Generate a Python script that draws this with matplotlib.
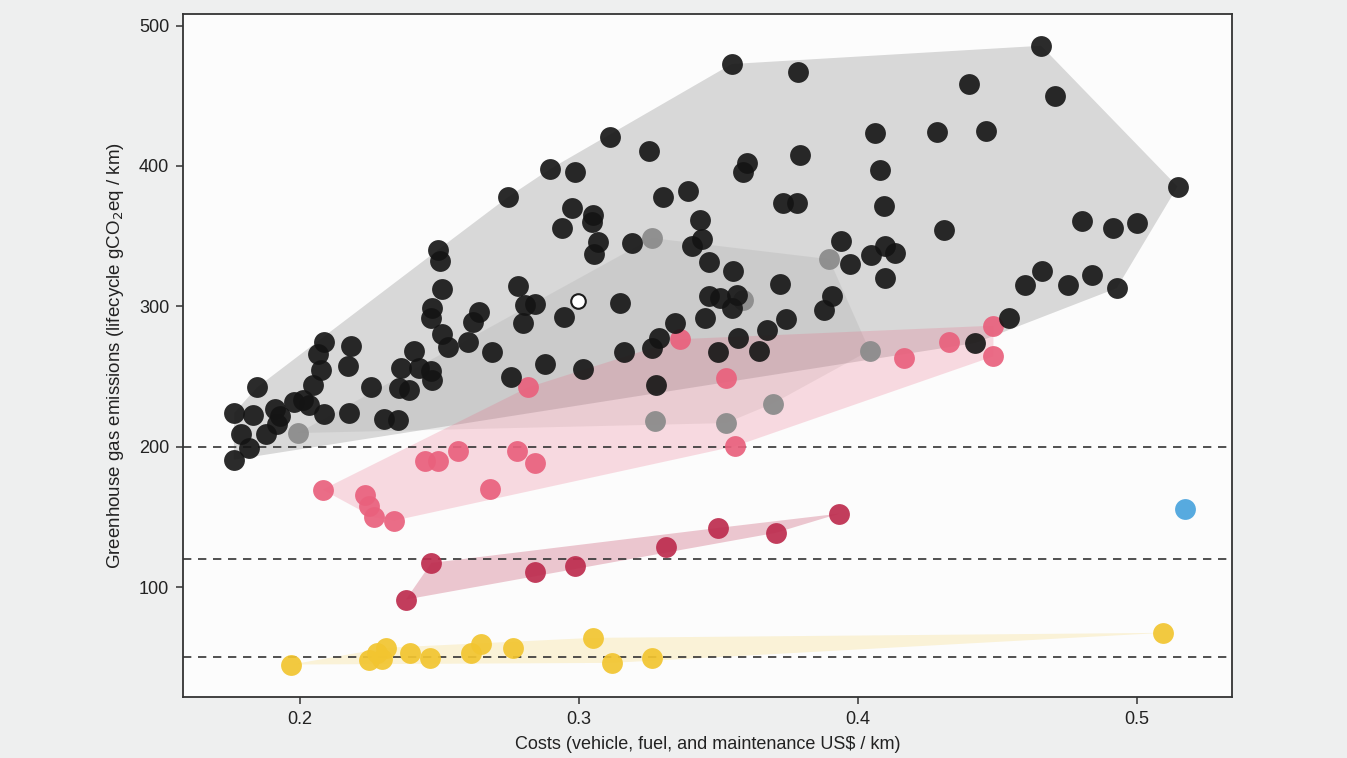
import matplotlib
matplotlib.use("Agg")
import matplotlib.pyplot as plt
import numpy as np

plt.rcParams['font.family'] = ['Liberation Sans', 'DejaVu Sans']

# ---- data (cost US$/km, GHG gCO2eq/km) ----
black_x = [0.2744, 0.2494, 0.2502, 0.2510, 0.2474, 0.2468, 0.2508, 0.2528, 0.2642, 0.2621,
           0.2601, 0.2687, 0.2755, 0.2086, 0.2062, 0.2074, 0.2045, 0.2183, 0.2171, 0.2253,
           0.2409, 0.2361, 0.2424, 0.2468, 0.2474, 0.2353, 0.2389, 0.1845, 0.1763, 0.1830,
           0.1910, 0.1928, 0.1789, 0.1878, 0.1916, 0.1817, 0.1762, 0.1976, 0.2010, 0.2030,
           0.2086, 0.2176, 0.2299, 0.2349,
           0.3547, 0.3783, 0.3109, 0.3251, 0.2894, 0.2985, 0.3601, 0.3589, 0.3792, 0.3299,
           0.3389, 0.3732, 0.3780, 0.2974, 0.3051, 0.3045, 0.2940, 0.3434, 0.3442, 0.3406,
           0.3066, 0.3054, 0.3189, 0.3938, 0.3971, 0.3466, 0.3550, 0.3720, 0.2779, 0.2806,
           0.2842, 0.2798, 0.2944, 0.3147, 0.3464, 0.3505, 0.3565, 0.3547, 0.3452, 0.3742,
           0.3908, 0.3876, 0.3344, 0.3285, 0.3261, 0.3675, 0.3571, 0.3496, 0.3645, 0.3159,
           0.2878, 0.3013, 0.3276,
           0.4656, 0.4398, 0.4706, 0.4061, 0.4282, 0.4458, 0.4077, 0.4091, 0.5145, 0.4308,
           0.4801, 0.4915, 0.5001, 0.4097, 0.4133, 0.4045, 0.4095, 0.4658, 0.4599, 0.4754,
           0.4840, 0.4927, 0.4539, 0.4419]
black_y = [377.7, 340.2, 332.4, 312.2, 298.7, 291.6, 280.2, 271.0, 295.9, 288.8,
           274.5, 267.4, 249.6, 274.5, 266.2, 254.3, 243.6, 271.4, 257.2, 242.2,
           268.5, 256.0, 256.0, 253.6, 247.7, 241.8, 240.6, 242.2, 224.0, 222.3,
           227.0, 221.6, 209.0, 209.0, 216.2, 199.1, 190.7, 231.8, 233.5, 229.9,
           223.5, 224.0, 219.9, 219.2,
           472.6, 466.7, 420.9, 410.7, 397.6, 395.9, 401.9, 395.9, 407.8, 378.1,
           382.4, 373.4, 373.4, 370.3, 365.1, 359.9, 356.1, 361.6, 348.0, 343.1,
           346.1, 337.4, 345.0, 346.8, 330.0, 331.4, 325.3, 315.8, 314.8, 301.1,
           301.6, 288.0, 292.7, 302.3, 307.0, 305.8, 307.7, 298.7, 291.6, 291.1,
           307.0, 297.5, 288.0, 277.3, 270.2, 282.8, 277.3, 267.4, 268.3, 267.8,
           259.1, 255.5, 244.1,
           485.6, 458.4, 450.1, 423.7, 424.4, 425.1, 397.2, 371.8, 385.3, 354.4,
           360.9, 356.1, 359.2, 342.6, 337.9, 336.2, 320.1, 324.8, 315.3, 315.3,
           322.4, 312.9, 292.0, 273.8]

gray_x = [0.1992, 0.3261, 0.3896, 0.3589, 0.3272, 0.3526, 0.3693, 0.4041]
gray_y = [209.7, 348.6, 333.6, 304.6, 218.5, 216.8, 230.6, 268.5]

pink_x = [0.3362, 0.2816, 0.3526, 0.3557, 0.4485, 0.4324, 0.4485, 0.4166, 0.2080, 0.2233,
          0.2248, 0.2263, 0.2337, 0.2446, 0.2494, 0.2565, 0.2777, 0.2840, 0.2679]
pink_y = [276.6, 242.2, 248.9, 200.2, 286.2, 274.5, 264.3, 263.1, 169.4, 165.8,
          157.5, 149.7, 147.3, 189.5, 189.5, 196.7, 196.7, 188.4, 170.1]

darkred_x = [0.2470, 0.2379, 0.2840, 0.2986, 0.3311, 0.3497, 0.3704, 0.3932]
darkred_y = [117.2, 91.1, 110.8, 114.8, 128.3, 142.1, 138.6, 152.3]

yellow_x = [0.1968, 0.2248, 0.2293, 0.2275, 0.2308, 0.2394, 0.2466, 0.2613, 0.2649, 0.2761,
            0.3048, 0.3119, 0.3260, 0.5094]
yellow_y = [44.8, 47.7, 48.9, 53.2, 56.7, 53.2, 49.6, 53.2, 59.5, 56.7,
            63.8, 46.0, 49.6, 67.4]

blue_x = [0.5171]
blue_y = [155.7]

white_x = [0.2994]
white_y = [303.9]

thresholds = [200, 120, 50]
x_ticks = [0.2, 0.3, 0.4, 0.5]
y_ticks = [100, 200, 300, 400, 500]


def convex_hull(xs, ys):
    pts = sorted(set(zip(xs, ys)))
    if len(pts) < 3:
        return pts

    def cross(o, a, b):
        return (a[0] - o[0]) * (b[1] - o[1]) - (a[1] - o[1]) * (b[0] - o[0])

    lower, upper = [], []
    for p in pts:
        while len(lower) >= 2 and cross(lower[-2], lower[-1], p) <= 0:
            lower.pop()
        lower.append(p)
    for p in reversed(pts):
        while len(upper) >= 2 and cross(upper[-2], upper[-1], p) <= 0:
            upper.pop()
        upper.append(p)
    return lower[:-1] + upper[:-1]


fig = plt.figure(figsize=(13.47, 7.58), dpi=100, facecolor='#eeefef')
ax = fig.add_axes([0.1359, 0.0805, 0.7787, 0.901])
ax.set_facecolor('#fcfcfc')

# (x, y, hull colour, hull alpha)
groups = [
    (black_x, black_y, '#000000', 0.14),
    (gray_x, gray_y, '#7a7a7a', 0.13),
    (pink_x, pink_y, '#e9617d', 0.22),
    (darkred_x, darkred_y, '#bd2c4e', 0.26),
    (yellow_x, yellow_y, '#f2c530', 0.18),
]

for xs, ys, hc, ha in groups:
    hull = convex_hull(xs, ys)
    hx = [p[0] for p in hull]
    hy = [p[1] for p in hull]
    ax.fill(hx, hy, color=hc, alpha=ha, lw=0, zorder=1)

for y in thresholds:
    ax.axhline(y, color='#333333', lw=1.2, ls=(0, (5, 4)), zorder=2)

S = 225
ax.scatter(yellow_x, yellow_y, s=S, color='#f2c530', alpha=0.92, lw=0, zorder=3)
ax.scatter(darkred_x, darkred_y, s=S, color='#bd2c4e', alpha=0.92, lw=0, zorder=3)
ax.scatter(pink_x, pink_y, s=S, color='#e9617d', alpha=0.92, lw=0, zorder=3)
ax.scatter(gray_x, gray_y, s=S, color='#8c8c8c', alpha=0.95, lw=0, zorder=3)
ax.scatter(black_x, black_y, s=S, color='#141414', alpha=0.9, lw=0, zorder=4)
ax.scatter(blue_x, blue_y, s=S, color='#4ea6de', alpha=0.95, lw=0, zorder=4)
ax.scatter(white_x, white_y, s=110, facecolor='white', edgecolor='#1a1a1a', lw=1.5, zorder=5)

ax.set_xlim(0.158, 0.534)
ax.set_ylim(21.7, 508.2)
ax.set_xticks(x_ticks)
ax.set_xticklabels([f'{v:.1f}' for v in x_ticks])
ax.set_yticks(y_ticks)
ax.set_yticklabels([str(v) for v in y_ticks])
ax.tick_params(direction='out', length=5, width=1.1, colors='#333333',
               labelcolor='#222222', labelsize=13, pad=5)

for sp in ax.spines.values():
    sp.set_color('#333333')
    sp.set_linewidth(1.3)

ax.set_xlabel('Costs (vehicle, fuel, and maintenance US$ / km)', fontsize=13,
              color='#222222', labelpad=6)
ax.set_ylabel('Greenhouse gas emissions (lifecycle gCO$_2$eq / km)', fontsize=13.5,
              color='#222222', labelpad=9)

fig.savefig('out.png', dpi=100, facecolor=fig.get_facecolor())
